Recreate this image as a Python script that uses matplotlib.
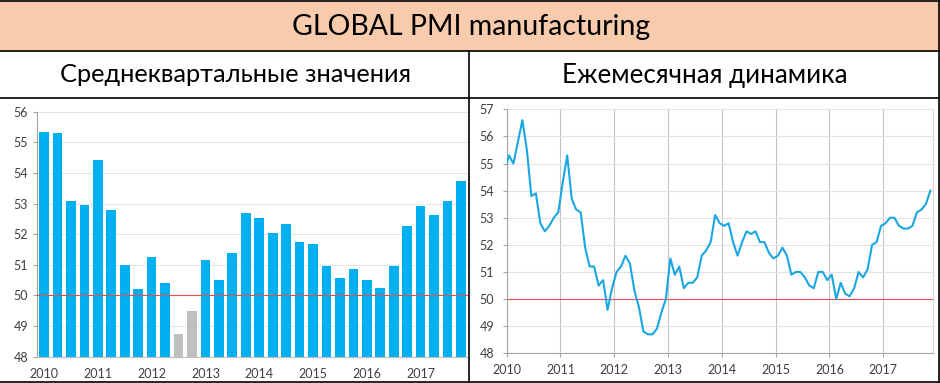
import matplotlib
matplotlib.use('Agg')
import matplotlib.pyplot as plt
import numpy as np
from matplotlib.lines import Line2D
from matplotlib.patches import Rectangle

plt.rcParams['font.family'] = ['Lato', 'DejaVu Sans']

W, H = 940, 383

title = 'GLOBAL PMI manufacturing'
left_title = 'Среднеквартальные значения'
right_title = 'Ежемесячная динамика'
years = ['2010', '2011', '2012', '2013', '2014', '2015', '2016', '2017']

# quarterly averages, 2010 Q1 .. 2017 Q4
quarterly = [55.35, 55.31, 53.07, 52.94, 54.42, 52.78, 50.99, 50.22,
             51.25, 50.42, 48.74, 49.50, 51.16, 50.52, 51.39, 52.68,
             52.52, 52.03, 52.32, 51.76, 51.68, 50.97, 50.56, 50.88,
             50.49, 50.23, 50.97, 52.26, 52.92, 52.63, 53.07, 53.75]

# monthly values, Dec 2009 .. Nov 2017
monthly = [54.7,
           55.3, 55.0, 55.8, 56.6, 55.5, 53.8, 53.9, 52.8, 52.5, 52.7, 53.0, 53.2,
           54.3, 55.3, 53.7, 53.3, 53.2, 51.9, 51.2, 51.2, 50.5, 50.7, 49.6, 50.4,
           51.0, 51.2, 51.6, 51.3, 50.3, 49.7, 48.8, 48.7, 48.7, 48.9, 49.5, 50.0,
           51.5, 50.9, 51.2, 50.4, 50.6, 50.6, 50.8, 51.6, 51.8, 52.1, 53.1, 52.8,
           52.7, 52.8, 52.1, 51.6, 52.1, 52.5, 52.4, 52.5, 52.1, 52.1, 51.7, 51.5,
           51.6, 51.9, 51.6, 50.9, 51.0, 51.0, 50.8, 50.5, 50.4, 51.0, 51.0, 50.7,
           50.9, 50.0, 50.6, 50.2, 50.1, 50.4, 51.0, 50.8, 51.1, 52.0, 52.1, 52.7,
           52.8, 53.0, 53.0, 52.7, 52.6, 52.6, 52.7, 53.2, 53.3, 53.5, 54.0]

threshold = 50

BLUE = '#00B0F0'
GREY_BAR = '#BFBFBF'
RED = '#E85050'
LABEL = '#404040'


def fx(px):
    return px / W


def fy(py):
    return 1 - py / H


fig = plt.figure(figsize=(W / 100, H / 100), dpi=100)

# header band and table lines
fig.add_artist(Rectangle((0, fy(50.5)), 1, 49.5 / H, transform=fig.transFigure,
                         facecolor='#F8CBAD', edgecolor='none'))
for y in [1, 50.5, 97.5, 381.5]:
    fig.add_artist(Line2D([0, fx(938.5)], [fy(y), fy(y)], color='black', lw=1.2))
fig.add_artist(Line2D([fx(468.5)] * 2, [fy(50.5), fy(381.5)], color='black', lw=1.2))
fig.add_artist(Line2D([fx(938.5)] * 2, [fy(1), fy(381.5)], color='black', lw=1.2))

fig.text(fx(471), fy(27), title, ha='center', va='center', fontsize=20.5, color='black')
fig.text(fx(236), fy(75), left_title, ha='center', va='center', fontsize=18.3, color='black')
fig.text(fx(705), fy(75), right_title, ha='center', va='center', fontsize=18.6, color='black')

# left: quarterly bars
axL = fig.add_axes([fx(37.3), fy(356.7), (467.7 - 37.3) / W, 245 / H])
colors = [GREY_BAR if v < threshold else BLUE for v in quarterly]
axL.bar(np.arange(len(quarterly)), quarterly, width=0.72, color=colors, zorder=2)
axL.axhline(threshold, color=RED, lw=0.8, zorder=3)
axL.set_xlim(-0.5, len(quarterly) - 0.5)
axL.set_ylim(48, 56)
axL.set_yticks(range(48, 57))
axL.set_xticks(np.arange(0, len(quarterly), 4))
axL.set_xticklabels(years)
axL.yaxis.grid(True, color='#E6E6E6', lw=0.8)
axL.set_axisbelow(True)
for s in ['top', 'right']:
    axL.spines[s].set_visible(False)
axL.spines['left'].set_color('#A6A6A6')
axL.spines['bottom'].set_color('#BFBFBF')
axL.tick_params(axis='y', length=3, color='#A6A6A6', pad=3.5, labelsize=9, labelcolor=LABEL)
axL.tick_params(axis='x', length=0, pad=8, labelsize=9, labelcolor=LABEL)

# right: monthly line
axR = fig.add_axes([fx(506.7), fy(353.3), (932.6 - 506.7) / W, 244 / H])
xm = np.arange(len(monthly)) - 0.5
axR.plot(xm, monthly, color='#1AA7E1', lw=1.5, zorder=3)
axR.axhline(threshold, color=RED, lw=0.8, zorder=2)
axR.set_xlim(0, len(monthly) - 1)
axR.set_ylim(48, 57)
axR.set_yticks(range(48, 58))
axR.set_xticks(np.arange(0, 85, 12))
axR.set_xticklabels(years)
axR.yaxis.grid(True, color='#E3E3E3', lw=0.8)
axR.xaxis.grid(True, color='#C4C4C4', lw=0.8)
axR.set_axisbelow(True)
axR.spines['top'].set_visible(False)
axR.spines['right'].set_color('#D9D9D9')
axR.spines['left'].set_color('#A6A6A6')
axR.spines['bottom'].set_color('#A6A6A6')
axR.tick_params(axis='y', length=3, color='#A6A6A6', pad=6, labelsize=9, labelcolor=LABEL)
axR.tick_params(axis='x', length=3, color='#A6A6A6', pad=5, labelsize=9, labelcolor=LABEL)

fig.savefig('out.png', dpi=100)
